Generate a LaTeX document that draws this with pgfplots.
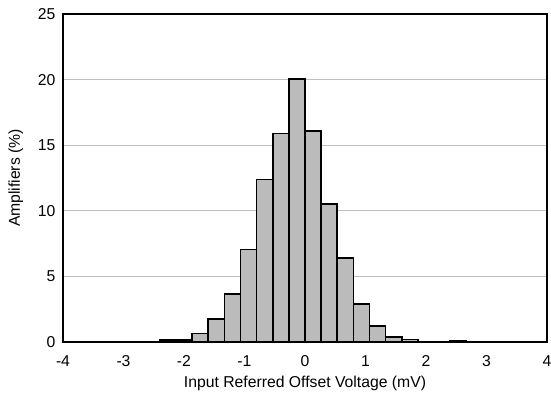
\documentclass[border=0pt]{standalone}
\usepackage{pgfplots}
\pgfplotsset{compat=1.18}
\usepackage{fontspec}
\setmainfont{Liberation Sans}
\definecolor{barfill}{RGB}{187,187,187}
\definecolor{gridc}{RGB}{190,190,190}
\begin{document}
\begin{tikzpicture}
\begin{axis}[
  scale only axis,
  width=484bp, height=328bp,
  xmin=-4, xmax=4, ymin=0, ymax=25,
  xtick={-4,-3,-2,-1,0,1,2,3,4},
  xticklabels={-4,-3,-2,-1,0,1,2,3,4},
  ytick={0,5,10,15,20,25},
  yticklabels={0,5,10,15,20,25},
  major tick length=0pt,
  ymajorgrids,
  grid style={gridc, line width=0.8bp},
  axis line style={line width=1.8bp, black},
  tick label style={font=\fontsize{15.8}{17}\selectfont},
  label style={font=\fontsize{15.8}{17}\selectfont},
  xticklabel style={yshift=-10bp},
  yticklabel style={xshift=-4bp},
  xlabel={Input Referred Offset Voltage (mV)},
  ylabel={Amplifiers (\%)},
  xlabel style={yshift=-3bp},
  ylabel style={yshift=8bp},
]
\addplot[ybar interval, fill=barfill, draw=black, line width=1.6bp] coordinates {
(-2.6667,0.05)
(-2.4,0.15)
(-2.1333,0.15)
(-1.8667,0.65)
(-1.6,1.75)
(-1.3333,3.65)
(-1.0667,7.05)
(-0.8,12.4)
(-0.5333,15.9)
(-0.2667,20.05)
(0,16.1)
(0.2667,10.5)
(0.5333,6.4)
(0.8,2.9)
(1.0667,1.2)
(1.3333,0.4)
(1.6,0.2)
(1.8667,0.05)
(2.1333,0)
(2.4,0.1)
(2.6667,0)
};
\end{axis}
\pgfresetboundingbox
\path (-63bp,-54bp) rectangle (488bp,342bp);
\end{tikzpicture}
\end{document}
